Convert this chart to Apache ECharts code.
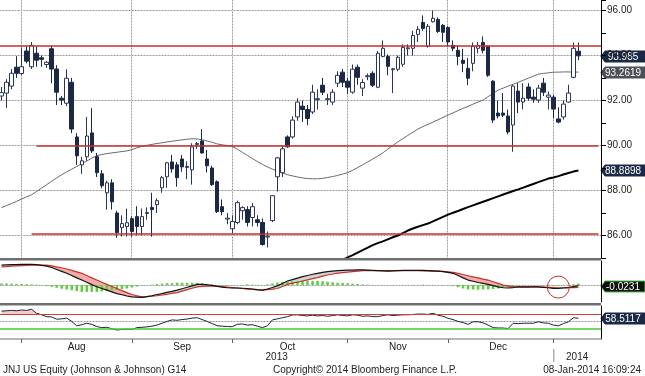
<!DOCTYPE html>
<html>
<head>
<meta charset="utf-8">
<script src="https://cdn.jsdelivr.net/npm/echarts@6/dist/echarts.min.js"></script>
<style>
  html, body { margin: 0; padding: 0; background: #fff; }
  #app { width: 645px; height: 376px; }
</style>
</head>
<body>
<div id="app"></div>
<script>
// JNJ daily bars from 25-Jul-2013, [open, close, low, high]
const candles = [
  [92.20,92.35,92.00,92.60],[92.33,92.81,91.66,92.95],[92.64,93.21,92.50,93.40],[93.48,93.21,93.00,93.97],[93.20,93.50,93.12,94.36],
  [94.20,93.75,93.65,94.40],[93.50,94.45,93.40,94.60],[94.10,93.79,93.50,94.40],[93.90,93.83,93.50,94.00],[93.60,93.70,93.45,93.75],
  [94.30,93.40,92.77,94.45],[93.40,92.37,91.80,93.57],[92.10,92.02,91.80,92.20],[91.88,92.99,91.75,93.39],[92.81,90.73,90.55,93.00],
  [90.38,89.54,89.14,90.55],[89.14,89.32,88.74,89.50],[89.50,90.42,89.32,91.27],[90.56,89.76,89.67,91.66],[89.50,88.79,88.60,89.67],
  [88.74,88.21,88.10,88.90],[87.90,88.34,87.15,88.43],[88.34,87.50,87.15,88.50],[87.00,86.13,85.90,87.10],[86.35,86.53,85.95,86.90],
  [86.40,86.57,85.95,87.20],[86.75,86.18,85.95,86.85],[86.84,86.40,86.00,87.30],[86.40,86.84,86.00,87.20],[86.98,87.02,86.70,87.25],
  [87.25,87.15,85.95,87.90],[87.37,87.55,87.00,87.65],[88.12,88.57,87.90,88.65],[88.61,89.23,88.12,89.27],[89.27,88.96,88.79,89.58],
  [89.14,88.57,88.17,89.27],[89.40,89.05,88.83,89.58],[89.02,89.07,88.50,89.30],[88.92,89.94,88.26,90.10],[90.05,90.09,89.85,90.15],
  [90.20,89.67,89.63,90.73],[89.40,89.10,88.80,89.80],[89.00,88.26,88.20,89.10],[88.39,87.06,87.00,88.45],[87.28,87.06,86.90,87.60],
  [86.73,86.77,86.50,87.00],[86.30,86.62,86.10,86.90],[86.58,87.46,86.50,87.55],[87.10,87.24,86.70,87.30],[87.15,86.58,86.40,87.30],
  [86.80,87.28,86.40,87.45],[86.70,86.58,86.40,86.90],[86.58,85.60,85.55,86.75],[85.93,85.97,85.47,86.18],[86.66,87.77,86.60,87.80],
  [88.61,89.45,87.95,89.50],[88.79,89.85,88.60,90.00],[90.38,89.94,89.90,90.45],[90.38,91.13,90.30,91.30],[91.27,91.93,91.10,92.10],
  [91.75,91.60,91.05,92.00],[91.60,91.20,90.90,91.80],[91.49,92.37,91.40,92.70],[92.04,92.08,91.60,92.50],[92.68,92.37,92.24,93.00],
  [92.04,92.08,91.80,92.30],[91.93,92.37,91.80,92.50],[92.77,93.12,92.60,93.30],[93.26,92.81,92.60,93.40],[92.86,92.59,92.30,93.00],
  [92.37,93.39,92.30,93.60],[93.48,93.03,92.70,93.60],[92.55,92.80,92.20,92.95],[93.06,93.10,92.90,93.20],[93.21,92.68,92.60,93.30],
  [92.59,94.10,92.55,94.20],[93.96,94.32,93.92,94.67],[93.96,93.52,93.12,94.05],[93.37,93.41,92.33,93.45],[93.39,93.92,93.30,94.00],
  [93.61,94.36,93.50,94.50],[94.30,94.34,94.00,94.50],[94.32,94.89,94.00,95.10],[94.94,95.16,94.60,95.30],[95.47,95.20,95.10,95.78],
  [94.40,95.30,94.35,95.40],[95.50,95.65,95.47,96.00],[95.60,95.07,95.00,95.70],[95.34,95.03,94.60,95.40],[95.25,94.60,94.40,95.30],
  [94.45,94.32,94.19,94.67],[94.23,93.96,93.57,94.45],[93.79,93.65,93.26,94.30],[93.43,92.99,92.68,93.88],[93.65,94.41,93.30,94.58],
  [94.32,94.45,94.10,94.60],[94.58,94.23,94.10,94.85],[94.41,93.12,93.05,94.45],[92.86,91.13,91.00,92.90],[91.44,91.31,91.20,92.00],
  [91.44,91.35,91.27,92.33],[91.31,90.60,90.50,91.60],[90.91,92.64,89.72,92.68],[92.42,91.93,91.44,92.77],[91.93,92.10,91.60,92.77],
  [92.60,92.10,92.00,92.77],[92.15,92.06,91.90,92.50],[92.02,92.55,91.90,92.70],[92.77,92.37,92.20,93.00],[92.15,92.24,91.60,92.40],
  [92.15,91.62,91.20,92.24],[91.18,91.04,90.99,91.70],[91.27,91.84,91.15,92.00],[91.93,92.33,91.90,92.70],[93.03,94.32,92.99,94.58],
  [94.19,93.985,93.79,94.58]
];

const ma50 = [
  87.24,87.33,87.42,87.52,87.62,87.72,87.81,87.96,88.11,88.26,
  88.41,88.56,88.70,88.83,88.95,89.07,89.19,89.31,89.44,89.55,
  89.60,89.64,89.67,89.70,89.73,89.76,89.82,89.90,89.96,90.01,
  90.05,90.09,90.12,90.16,90.19,90.22,90.25,90.28,90.30,90.29,
  90.25,90.20,90.14,90.07,90.03,90.00,89.96,89.84,89.70,89.56,
  89.42,89.29,89.16,89.05,88.95,88.87,88.78,88.70,88.65,88.60,
  88.56,88.53,88.52,88.52,88.54,88.58,88.62,88.67,88.73,88.79,
  88.90,89.02,89.14,89.27,89.40,89.53,89.67,89.84,90.00,90.16,
  90.30,90.45,90.59,90.73,90.84,90.94,91.04,91.14,91.25,91.35,
  91.45,91.55,91.65,91.74,91.84,91.93,92.02,92.17,92.32,92.46,
  92.55,92.64,92.72,92.81,92.90,92.99,93.08,93.17,93.20,93.23,
  93.26,93.26,93.27,93.27,93.26,93.2619
];

// 200-day average only enters the panel late in October
const ma200Start = 66;
const ma200Visible = [
  84.72,84.82,84.92,85.03,85.13,85.24,85.35,85.46,85.57,85.66,
  85.74,85.83,85.92,86.00,86.11,86.22,86.31,86.39,86.46,86.53,
  86.63,86.73,86.83,86.93,87.01,87.09,87.18,87.26,87.34,87.42,
  87.50,87.58,87.66,87.74,87.82,87.90,87.98,88.05,88.13,88.21,
  88.29,88.37,88.45,88.53,88.58,88.64,88.71,88.78,88.84,88.8898
];

const macdLine = [
  0.83,0.84,0.85,0.85,0.86,0.86,0.86,0.85,0.82,0.79,
  0.73,0.65,0.57,0.49,0.40,0.30,0.21,0.12,0.02,-0.07,
  -0.14,-0.21,-0.28,-0.35,-0.40,-0.45,-0.49,-0.50,-0.51,-0.48,
  -0.44,-0.39,-0.35,-0.30,-0.26,-0.21,-0.15,-0.09,-0.03,0.03,
  0.03,0.01,-0.01,-0.05,-0.08,-0.11,-0.12,-0.12,-0.13,-0.14,
  -0.16,-0.19,-0.21,-0.16,-0.10,-0.03,0.07,0.17,0.23,0.29,
  0.35,0.40,0.45,0.49,0.53,0.56,0.58,0.60,0.61,0.62,
  0.62,0.63,0.63,0.62,0.61,0.60,0.59,0.58,0.59,0.60,
  0.61,0.61,0.61,0.61,0.61,0.60,0.59,0.58,0.56,0.53,
  0.49,0.40,0.30,0.21,0.16,0.11,0.07,0.03,-0.02,-0.07,
  -0.11,-0.12,-0.10,-0.07,-0.07,-0.07,-0.07,-0.07,-0.09,-0.11,
  -0.14,-0.14,-0.12,-0.10,-0.06,-0.0231
];

const macdSignal = [
  0.76,0.77,0.79,0.80,0.81,0.82,0.83,0.83,0.83,0.83,
  0.80,0.76,0.72,0.67,0.61,0.55,0.49,0.40,0.30,0.21,
  0.12,0.03,-0.06,-0.14,-0.23,-0.31,-0.39,-0.44,-0.49,-0.48,
  -0.46,-0.44,-0.41,-0.38,-0.34,-0.31,-0.25,-0.19,-0.13,-0.07,
  -0.05,-0.04,-0.03,-0.04,-0.06,-0.08,-0.10,-0.12,-0.14,-0.17,
  -0.18,-0.20,-0.21,-0.19,-0.17,-0.14,-0.06,0.03,0.08,0.12,
  0.17,0.22,0.27,0.31,0.37,0.42,0.46,0.50,0.52,0.54,
  0.56,0.58,0.60,0.60,0.60,0.60,0.60,0.60,0.60,0.60,
  0.60,0.60,0.60,0.60,0.59,0.59,0.58,0.58,0.57,0.55,
  0.53,0.49,0.44,0.39,0.34,0.30,0.25,0.21,0.14,0.07,
  0.00,-0.03,-0.06,-0.08,-0.08,-0.08,-0.07,-0.07,-0.08,-0.09,
  -0.10,-0.11,-0.11,-0.11,-0.10,-0.09
];

const rsi14 = [
  78,79,80,79,81,80,83,72,68,63,
  62,56,57,59,50,38,41,45,42,36,
  33,34,30,26.5,28,29,28,33,34,35,
  37,40,45,50,54,53,55,56.5,59,60,
  55,50,44,38,37,36,35.6,42,43,40,
  41,37,33,38,54,57,60,63,67.5,68,
  66,65,67,65,66,64,66,68,66,65,
  68,67,64,65,63,63,66,68,66,67,
  68,68,69,70,70,69,72,67,64,58.5,
  55,50,47,42,49,49,46,40,33,32,
  32,30.5,45,44,45,45,45,49,46,45,
  40,38,44,49,60,58.5117
];

const priceMin = 85, priceMax = 96.4667;
const priceGridLevels = [86, 88, 90, 92, 94, 96];
const resistanceLevel = 94.45;
const supportLines = [{ fromIndex: 7, value: 90.0 }, { fromIndex: 6, value: 86.07 }];
const rsiLevels = { high: 70, mid: 50, low: 30 };
const holidays = ['2013-09-02', '2013-11-28', '2013-12-25', '2014-01-01'];
const monthNames = ['Jan','Feb','Mar','Apr','May','Jun','Jul','Aug','Sep','Oct','Nov','Dec'];

function tradingDays(start, count) {
  const out = [];
  const d = new Date(start + 'T00:00:00Z');
  while (out.length < count) {
    const wd = d.getUTCDay();
    const s = d.toISOString().slice(0, 10);
    if (wd !== 0 && wd !== 6 && holidays.indexOf(s) < 0) out.push(s);
    d.setUTCDate(d.getUTCDate() + 1);
  }
  return out;
}

// a few empty sessions on the right, like the terminal leaves
const days = tradingDays('2013-07-25', candles.length + 4);
const last = candles.length - 1;

// last session of each month -> grid lines / ticks
const monthEnds = [];
for (let i = 0; i < last; i++) {
  if (days[i].slice(5, 7) !== days[i + 1].slice(5, 7)) monthEnds.push(i);
}
const monthLabelIdx = [];
for (let k = 0; k + 1 < monthEnds.length; k++) {
  monthLabelIdx.push(Math.floor((monthEnds[k] + monthEnds[k + 1]) / 2));
}

const ma200 = candles.map((c, i) => i < ma200Start ? null : ma200Visible[i - ma200Start]);
const macdHist = macdLine.map((v, i) => +(v - macdSignal[i]).toFixed(3));
const fillLow = macdLine.map((v, i) => Math.min(v, macdSignal[i]));
const fillPink = macdLine.map((v, i) => Math.max(macdSignal[i] - v, 0));
const fillGrey = macdLine.map((v, i) => Math.max(v - macdSignal[i], 0));
const rsiBase = rsi14.map(() => rsiLevels.high);
const rsiOver = rsi14.map(v => Math.max(v - rsiLevels.high, 0));

const font = '"Liberation Sans", Arial, sans-serif';
const navy = '#1b2947';
const dotGrey = '#9a9a9a';
const faintGrey = '#cbcbcb';
const redLine = () => ({ type: 'solid', color: '#c4302b', width: 1.5 });

const levelMarks = [
  { yAxis: resistanceLevel, lineStyle: redLine() }
];
supportLines.forEach(s => levelMarks.push([
  { coord: [days[s.fromIndex], s.value], lineStyle: redLine() },
  { coord: [days[days.length - 1], s.value] }
]));

function xAxisFor(gridIndex, show) {
  return {
    type: 'category', gridIndex, data: days, boundaryGap: true, show,
    axisLine: { show, lineStyle: { color: '#9c9c9c', width: 1.5 } },
    axisTick: { show, alignWithLabel: true, length: 4,
      interval: (i) => monthEnds.indexOf(i) >= 0, lineStyle: { color: '#666' } },
    axisLabel: { show, interval: (i) => monthLabelIdx.indexOf(i) >= 0,
      formatter: v => monthNames[+v.slice(5, 7) - 1], fontSize: 10, color: '#222', margin: 3, fontFamily: font },
    splitLine: { show: false }
  };
}

const chart = echarts.init(document.getElementById('app'));

const option = {
  animation: false,
  backgroundColor: '#fff',
  textStyle: { fontFamily: font },
  grid: [
    { left: -1, right: 44, top: 0, height: 258, outerBoundsMode: 'none' },
    { left: -1, right: 44, top: 261, height: 41, outerBoundsMode: 'none' },
    { left: -1, right: 44, top: 306, height: 33, outerBoundsMode: 'none' }
  ],
  xAxis: [xAxisFor(0, false), xAxisFor(1, false), xAxisFor(2, true)],
  yAxis: [
    { type: 'value', gridIndex: 0, position: 'right', min: priceMin, max: priceMax, interval: 1,
      axisLine: { show: true, lineStyle: { color: '#000' } },
      axisTick: { show: true, length: 5, lineStyle: { color: '#000' } },
      axisLabel: { formatter: v => (v % 2 === 0 ? v.toFixed(2) : ''), fontSize: 10, color: '#222', margin: 6 },
      splitLine: { show: false } },
    { type: 'value', gridIndex: 1, position: 'right', min: -0.7, max: 1.0,
      axisLine: { show: true, lineStyle: { color: '#000' } },
      axisTick: { show: false }, axisLabel: { show: false }, splitLine: { show: false } },
    { type: 'value', gridIndex: 2, position: 'right', min: 2, max: 92,
      axisLine: { show: true, lineStyle: { color: '#000' } },
      axisTick: { show: false }, axisLabel: { show: false }, splitLine: { show: false } }
  ],
  series: [
    { name: 'MA200', type: 'line', xAxisIndex: 0, yAxisIndex: 0, data: ma200, z: 2,
      showSymbol: false, lineStyle: { color: '#000', width: 2 } },
    { name: 'MA50', type: 'line', xAxisIndex: 0, yAxisIndex: 0, data: ma50, z: 2,
      showSymbol: false, lineStyle: { color: '#6a6a6a', width: 1 },
      markLine: { silent: true, symbol: 'none', label: { show: false },
        lineStyle: { type: 'solid', color: '#c4302b', width: 1.5 }, data: levelMarks } },
    { name: 'JNJ', type: 'candlestick', xAxisIndex: 0, yAxisIndex: 0, data: candles, z: 3,
      barWidth: 4,
      itemStyle: { color: '#ffffff', color0: navy, borderColor: '#2b3655', borderColor0: navy, borderWidth: 1 } },

    { name: 'fillLow', type: 'line', xAxisIndex: 1, yAxisIndex: 1, data: fillLow, stack: 'macdFill',
      stackStrategy: 'all', showSymbol: false, lineStyle: { opacity: 0 }, z: 1 },
    { name: 'fillPink', type: 'line', xAxisIndex: 1, yAxisIndex: 1, data: fillPink, stack: 'macdFill',
      stackStrategy: 'all', showSymbol: false, lineStyle: { opacity: 0 },
      areaStyle: { color: '#f2a3a1', opacity: 0.9 }, z: 1 },
    { name: 'fillGrey', type: 'line', xAxisIndex: 1, yAxisIndex: 1, data: fillGrey, stack: 'macdFill',
      stackStrategy: 'all', showSymbol: false, lineStyle: { opacity: 0 },
      areaStyle: { color: '#cdcdcd', opacity: 0.9 }, z: 1 },
    { name: 'Histogram', type: 'bar', xAxisIndex: 1, yAxisIndex: 1, data: macdHist, barWidth: 2.5,
      itemStyle: { color: '#5ccf3a' }, z: 2 },
    { name: 'Signal', type: 'line', xAxisIndex: 1, yAxisIndex: 1, data: macdSignal, z: 3,
      showSymbol: false, lineStyle: { color: '#c8302c', width: 1.2 } },
    { name: 'MACD', type: 'line', xAxisIndex: 1, yAxisIndex: 1, data: macdLine, z: 4,
      showSymbol: false, lineStyle: { color: '#111', width: 1.2 },
      markPoint: { silent: true, label: { show: false },
        data: [{ coord: [days[111], -0.08], symbol: 'circle', symbolSize: 22,
          itemStyle: { color: 'rgba(0,0,0,0)', borderColor: '#cc2e2e', borderWidth: 1 } }] } },

    { name: 'rsiBase', type: 'line', xAxisIndex: 2, yAxisIndex: 2, data: rsiBase, stack: 'rsiFill',
      showSymbol: false, lineStyle: { opacity: 0 }, z: 1 },
    { name: 'rsiOver', type: 'line', xAxisIndex: 2, yAxisIndex: 2, data: rsiOver, stack: 'rsiFill',
      showSymbol: false, lineStyle: { opacity: 0 }, areaStyle: { color: '#f4b4b2' }, z: 1,
      markLine: { silent: true, symbol: 'none', label: { show: false }, data: [
        { yAxis: rsiLevels.high, lineStyle: { type: 'solid', color: '#d0403a', width: 1.2 } },
        { yAxis: rsiLevels.low, lineStyle: { type: 'solid', color: '#4cc93a', width: 1.5 } }
      ] } },
    { name: 'RSI', type: 'line', xAxisIndex: 2, yAxisIndex: 2, data: rsi14, z: 3,
      showSymbol: false, lineStyle: { color: '#1c2438', width: 1 } }
  ]
};

chart.setOption(option);

// value flags on the right edge, placed through the axes
function valueTag(yAxisIndex, value, fill, stroke) {
  const y = Math.round(chart.convertToPixel({ yAxisIndex }, value)) + 0.5;
  return {
    type: 'group', x: 601, y, z: 100,
    children: [
      { type: 'polygon', shape: { points: [[0, 0], [4, -5.5], [44, -5.5], [44, 5.5], [4, 5.5]] },
        style: { fill, stroke: stroke || fill, lineWidth: 1 } },
      { type: 'text', x: 22, y: 0.5,
        style: { text: String(value), fill: '#fff', font: '10px ' + font,
          textAlign: 'center', textVerticalAlign: 'middle' } }
    ]
  };
}

function label(text, x, y, align) {
  return { type: 'text', x, y, z: 100,
    style: { text, fill: '#222', font: '10px ' + font, textAlign: align, textVerticalAlign: 'middle' } };
}

// a dotted rule: faint solid base with grey dots on top
function dottedRule(x1, y1, x2, y2) {
  return [
    { type: 'line', z: 1, silent: true, shape: { x1, y1, x2, y2 },
      style: { stroke: faintGrey, lineWidth: 1 } },
    { type: 'line', z: 1, silent: true, shape: { x1, y1, x2, y2 },
      style: { stroke: dotGrey, lineWidth: 1, lineDash: [1, 2] } }
  ];
}

const crisp = v => Math.floor(v) + 0.5;
const top0 = chart.convertToPixel({ yAxisIndex: 0 }, priceMax);
const bottom0 = chart.convertToPixel({ yAxisIndex: 0 }, priceMin);
let gridGraphics = [];
priceGridLevels.forEach(v => {
  const y = crisp(chart.convertToPixel({ yAxisIndex: 0 }, v));
  gridGraphics = gridGraphics.concat(dottedRule(0, y, 601, y));
});
monthEnds.forEach(i => {
  const x = crisp(chart.convertToPixel({ xAxisIndex: 0 }, days[i]));
  gridGraphics = gridGraphics.concat(dottedRule(x, top0, x, bottom0));
});
const macdZero = crisp(chart.convertToPixel({ yAxisIndex: 1 }, 0));
gridGraphics = gridGraphics.concat(dottedRule(0, macdZero, 601, macdZero));
const rsiMid = crisp(chart.convertToPixel({ yAxisIndex: 2 }, rsiLevels.mid));
gridGraphics = gridGraphics.concat(dottedRule(0, rsiMid, 601, rsiMid));

let lastOf2013 = 0;
days.forEach((d, i) => { if (d.slice(0, 4) === '2013') lastOf2013 = i; });
const yearX = chart.convertToPixel({ xAxisIndex: 2 }, days[lastOf2013]);

chart.setOption({
  graphic: gridGraphics.concat([
    { type: 'rect', shape: { x: 0, y: 258, width: 601, height: 2.5 }, style: { fill: '#6f6f6f' }, z: 90 },
    { type: 'rect', shape: { x: 0, y: 303, width: 601, height: 2.5 }, style: { fill: '#6f6f6f' }, z: 90 },
    valueTag(0, candles[last][1], navy),
    valueTag(0, ma50[last], '#4b5057'),
    valueTag(0, ma200[last], navy),
    valueTag(1, macdLine[last], '#111', '#45c43a'),
    valueTag(2, rsi14[last], navy),
    label('2013', yearX / 2, 357, 'center'),
    label('2014', (yearX + 601) / 2, 357, 'center'),
    { type: 'line', shape: { x1: yearX + 0.5, y1: 349, x2: yearX + 0.5, y2: 362 }, style: { stroke: '#888', lineWidth: 1 }, z: 100 },
    label('JNJ US Equity (Johnson & Johnson) G14', 3, 370, 'left'),
    label('Copyright\u00a9 2014 Bloomberg Finance L.P.', 273, 370, 'left'),
    label('08-Jan-2014 16:09:24', 641, 370, 'right')
  ])
});
</script>
</body>
</html>
